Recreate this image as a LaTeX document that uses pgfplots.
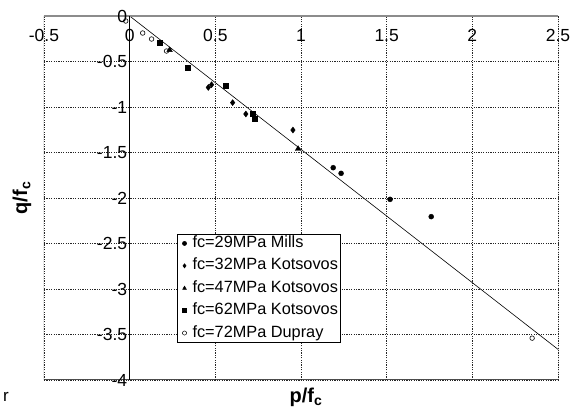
\documentclass[border=0pt]{standalone}
\usepackage{pgfplots}
\pgfplotsset{compat=1.18}
\usepackage{fontspec}
\setmainfont{Liberation Sans}
\begin{document}
\begin{tikzpicture}
\begin{axis}[
  scale only axis, width=514pt, height=364pt,
  xmin=-0.5, xmax=2.5, ymin=-4, ymax=0,
  axis lines=middle, axis line style={-},
  x axis line style={draw=black!45, line width=1.3pt},
  y axis line style={draw=black, line width=0.7pt},
  axis on top,
  xtick={-0.5,0,0.5,1,1.5,2,2.5},
  ytick={-4,-3.5,-3,-2.5,-2,-1.5,-1,-0.5,0},
  xticklabels={-0.5,0,0.5,1,1.5,2,2.5},
  yticklabels={-4,-3.5,-3,-2.5,-2,-1.5,-1,-0.5,0},
  hide obscured x ticks=false, hide obscured y ticks=false,
  major tick length=0pt,
  grid=major,
  grid style={black!85, line width=0.6pt, dash pattern=on 1.2pt off 1.2pt},
  tick label style={font=\fontsize{17.5}{19}\selectfont},
  xticklabel style={yshift=-10pt},
  yticklabel style={xshift=1pt},
  legend style={at={(0.259,0.401)}, anchor=north west,
    font=\fontsize{16.3}{19}\selectfont, draw=black, line width=0.8pt,
    inner xsep=1pt, inner ysep=0.5pt, row sep=5.4pt,
    cells={anchor=west},
    nodes={inner xsep=1pt, inner ysep=0pt, text height=12.5pt, text depth=4.5pt}},
  legend image code/.code={\path[draw=none, fill=none] (-6pt,0pt) -- (7pt,0pt); \draw[#1, mark size=2.1pt, line width=0.5pt] plot coordinates {(0pt,0pt)};},
]
\addplot[only marks, mark=*, mark size=2.5pt, black] coordinates {
  (1.188,-1.667) (1.234,-1.729) (1.52,-2.015) (1.76,-2.205)};
\addlegendentry{fc=29MPa Mills}
\addplot[only marks, mark=diamond*, mark size=3pt, black] coordinates {
  (0.459,-0.785) (0.478,-0.755) (0.601,-0.952) (0.678,-1.077) (0.953,-1.253)};
\addlegendentry{fc=32MPa Kotsovos}
\addplot[only marks, mark=triangle*, mark size=3.2pt, black] coordinates {
  (0.233,-0.374) (0.983,-1.46)};
\addlegendentry{fc=47MPa Kotsovos}
\addplot[only marks, mark=square*, mark size=2.5pt, black] coordinates {
  (0.178,-0.29) (0.339,-0.564) (0.562,-0.766) (0.721,-1.077) (0.727,-1.124)};
\addlegendentry{fc=62MPa Kotsovos}
\addplot[only marks, mark=o, mark size=2.3pt, black, line width=0.6pt] coordinates {
  (-0.023,-0.055) (0.076,-0.187) (0.128,-0.253) (0.215,-0.385) (2.349,-3.54)};
\addlegendentry{fc=72MPa Dupray}
\addplot[black, line width=0.6pt, forget plot] coordinates {(-0.02,0.029) (2.5,-3.663)};
\draw[black!70, line width=1pt] (rel axis cs:0,1) -- (rel axis cs:0,0) -- (rel axis cs:1,0) -- (rel axis cs:1,1);
\coordinate (bl) at (rel axis cs:0,0);
\end{axis}
\node[rotate=90, font=\bfseries\fontsize{20}{22}\selectfont] at ([shift={(-22pt,182pt)}]bl) {q/f\textsubscript{c}};
\node[font=\bfseries\fontsize{20}{22}\selectfont] at ([shift={(262pt,-17pt)}]bl) {p/f\textsubscript{c}};
\node[font=\fontsize{17}{19}\selectfont] at ([shift={(-38pt,-17pt)}]bl) {r};
\pgfresetboundingbox
\path ([shift={(-44pt,-29pt)}]bl) rectangle ++(582pt,409pt);
\end{tikzpicture}
\end{document}
